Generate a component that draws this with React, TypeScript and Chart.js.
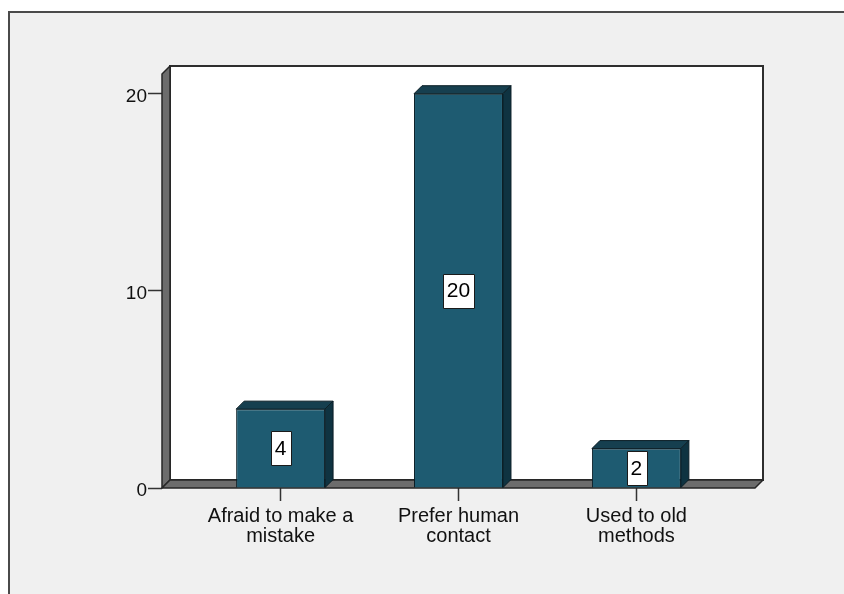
import React, { useEffect, useRef } from "react";
import { Chart, registerables } from "chart.js";

Chart.register(...registerables);

// Categories (two-line axis labels), bar counts and y-axis tick values
const categories: string[][] = [
  ["Afraid to make a", "mistake"],
  ["Prefer human", "contact"],
  ["Used to old", "methods"],
];
const counts: number[] = [4, 20, 2];
const yTicks: number[] = [0, 10, 20];

const FONT = '"Liberation Sans", Arial, Helvetica, sans-serif';
const DEPTH = 8;
const FRONT = "#1e5b71";
const TOP = "#163f4f";
const SIDE = "#0f3341";
const EDGE = "#0a1d25";
const WALL = "#6c6c6c";
const WALL_EDGE = "#262626";

function poly(ctx: CanvasRenderingContext2D, pts: number[][], fill: string, stroke: string, lw: number) {
  ctx.beginPath();
  ctx.moveTo(pts[0][0], pts[0][1]);
  for (let i = 1; i < pts.length; i++) ctx.lineTo(pts[i][0], pts[i][1]);
  ctx.closePath();
  ctx.fillStyle = fill;
  ctx.fill();
  ctx.strokeStyle = stroke;
  ctx.lineWidth = lw;
  ctx.lineJoin = "round";
  ctx.stroke();
}

// Draws the panel background, the 3D walls and floor, bar depth faces and value boxes
const depthPlugin = {
  id: "depth3d",
  beforeDraw(chart: any) {
    const { ctx, width, height } = chart;
    ctx.save();
    ctx.fillStyle = "#ffffff";
    ctx.fillRect(0, 0, width, height);
    ctx.fillStyle = "#f0f0f0";
    ctx.fillRect(9, 12, width, height);
    ctx.strokeStyle = "#4a4a4a";
    ctx.lineWidth = 2;
    ctx.beginPath();
    ctx.moveTo(9, height + 2);
    ctx.lineTo(9, 12);
    ctx.lineTo(width + 2, 12);
    ctx.stroke();
    ctx.restore();
  },
  beforeDatasetsDraw(chart: any) {
    const { ctx, chartArea: a } = chart;
    const d = DEPTH;
    ctx.save();
    // back wall
    ctx.fillStyle = "#ffffff";
    ctx.fillRect(a.left + d, a.top - d, a.right - a.left, a.bottom - a.top);
    ctx.strokeStyle = "#2e2e2e";
    ctx.lineWidth = 2;
    ctx.strokeRect(a.left + d, a.top - d, a.right - a.left, a.bottom - a.top);
    // left wall
    poly(ctx, [[a.left, a.top], [a.left + d, a.top - d], [a.left + d, a.bottom - d], [a.left, a.bottom]], WALL, WALL_EDGE, 1.5);
    // floor
    poly(ctx, [[a.left, a.bottom], [a.left + d, a.bottom - d], [a.right + d, a.bottom - d], [a.right, a.bottom]], WALL, WALL_EDGE, 1.5);
    ctx.restore();
  },
  afterDatasetsDraw(chart: any) {
    const { ctx } = chart;
    const d = DEPTH;
    const meta = chart.getDatasetMeta(0);
    ctx.save();
    meta.data.forEach((bar: any) => {
      const { x, y, base, width } = bar.getProps(["x", "y", "base", "width"], true);
      const l = x - width / 2;
      const r = x + width / 2;
      poly(ctx, [[l, y], [l + d, y - d], [r + d, y - d], [r, y]], TOP, EDGE, 1);
      poly(ctx, [[r, y], [r + d, y - d], [r + d, base - d], [r, base]], SIDE, EDGE, 1);
    });
    ctx.font = `21px ${FONT}`;
    ctx.textAlign = "center";
    ctx.textBaseline = "middle";
    meta.data.forEach((bar: any, i: number) => {
      const { x, y, base } = bar.getProps(["x", "y", "base"], true);
      const text = String(counts[i]);
      const w = ctx.measureText(text).width + 8;
      const h = 34;
      const cy = (y + base) / 2;
      ctx.fillStyle = "#ffffff";
      ctx.fillRect(Math.round(x - w / 2) + 0.5, Math.round(cy - h / 2) + 0.5, Math.round(w), h);
      ctx.strokeStyle = "#1a1a1a";
      ctx.lineWidth = 1;
      ctx.strokeRect(Math.round(x - w / 2) + 0.5, Math.round(cy - h / 2) + 0.5, Math.round(w), h);
      ctx.fillStyle = "#000000";
      ctx.fillText(text, x, cy + 1);
    });
    ctx.restore();
  },
};

export default function App() {
  const canvasRef = useRef<HTMLCanvasElement | null>(null);

  useEffect(() => {
    if (!canvasRef.current) return;
    const chart = new Chart(canvasRef.current, {
      type: "bar",
      data: {
        datasets: [
          {
            data: counts.map((v, i) => ({ x: i, y: v })),
            backgroundColor: FRONT,
            borderColor: EDGE,
            borderWidth: 1,
            categoryPercentage: 0.5,
            barPercentage: 1,
          },
        ],
      },
      options: {
        responsive: false,
        animation: false,
        events: [],
        layout: { padding: { left: 0, right: 89, top: 74, bottom: 0 } },
        plugins: {
          legend: { display: false },
          tooltip: { enabled: false },
          title: { display: false },
        },
        scales: {
          x: {
            type: "linear",
            min: -2 / 3,
            max: 8 / 3,
            offset: false,
            border: { display: false },
            grid: {
              offset: false,
              drawOnChartArea: false,
              drawTicks: true,
              tickLength: 13,
              tickColor: "#333333",
              tickWidth: 1.5,
            },
            afterBuildTicks: (s: any) => {
              s.ticks = categories.map((_, i) => ({ value: i }));
            },
            afterFit: (s: any) => {
              s.height = 106;
            },
            ticks: {
              autoSkip: false,
              maxRotation: 0,
              minRotation: 0,
              padding: 5,
              color: "#111111",
              font: { family: FONT, size: 20, lineHeight: 1.0 },
              callback: (_v: any, i: number) => categories[i],
            },
          },
          y: {
            type: "linear",
            min: 0,
            max: 21,
            border: { display: false },
            grid: {
              drawOnChartArea: false,
              drawTicks: true,
              tickLength: 14,
              tickColor: "#333333",
              tickWidth: 1.5,
            },
            afterBuildTicks: (s: any) => {
              s.ticks = yTicks.map((v) => ({ value: v }));
            },
            afterFit: (s: any) => {
              s.width = 162;
            },
            ticks: {
              padding: 1,
              labelOffset: 3,
              color: "#111111",
              font: { family: FONT, size: 19 },
            },
          },
        },
      },
      plugins: [depthPlugin],
    });
    return () => chart.destroy();
  }, []);

  return (
    <div style={{ position: "fixed", left: 0, top: 0, width: 844, height: 594, background: "#ffffff" }}>
      <canvas ref={canvasRef} width={844} height={594} style={{ display: "block", width: 844, height: 594 }} />
    </div>
  );
}
